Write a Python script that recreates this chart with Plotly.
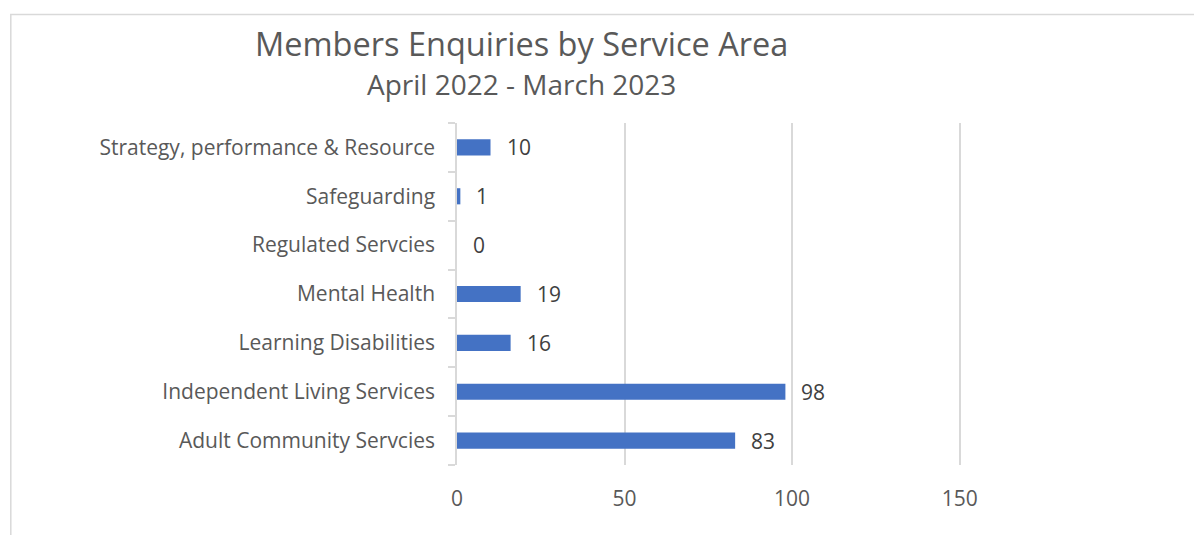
import plotly.graph_objects as go

categories = [
    "Adult Community Servcies",
    "Independent Living Services",
    "Learning Disabilities",
    "Mental Health",
    "Regulated Servcies",
    "Safeguarding",
    "Strategy, performance & Resource",
]
values = [83, 98, 16, 19, 0, 1, 10]
x_ticks = [0, 50, 100, 150]

title_text = "Members Enquiries by Service Area"
subtitle_text = "April 2022 - March 2023"

# page body has an 8px default margin; work in page pixel coords and subtract it
OFF = 8
W, H = 1202 - OFF, 535 - OFF
X_MAX = 150.4
L = 457 - OFF
R = L + X_MAX * (503 / 150)
T, B = 123 - OFF, 465 - OFF
pw, ph = R - L, B - T

def px_x(p):
    return (p - OFF - L) / pw

def px_y(p):
    return (B - (p - OFF)) / ph

FONT = "'Open Sans', sans-serif"

fig = go.Figure(
    go.Bar(
        x=values,
        y=categories,
        orientation="h",
        marker=dict(color="#4472C4", line=dict(width=0)),
        width=0.33,
        hoverinfo="x+y",
    )
)

for v, c in zip(values, categories):
    fig.add_annotation(
        x=v, y=c, xref="x", yref="y", text=str(v), showarrow=False,
        xanchor="left", xshift=14, font=dict(family=FONT, size=21, color="#404040"),
    )

fig.add_annotation(
    x=px_x(522), y=px_y(43), xref="paper", yref="paper", text=title_text,
    showarrow=False, xanchor="center", yanchor="middle",
    font=dict(family=FONT, size=32.5, color="#595959"),
)
fig.add_annotation(
    x=px_x(522), y=px_y(84), xref="paper", yref="paper", text=subtitle_text,
    showarrow=False, xanchor="center", yanchor="middle",
    font=dict(family=FONT, size=28, color="#595959"),
)

fig.add_shape(
    type="rect", xref="paper", yref="paper",
    x0=px_x(10.5), x1=px_x(1230), y0=px_y(560), y1=px_y(14.5),
    line=dict(color="#d9d9d9", width=1.5), fillcolor="rgba(0,0,0,0)", layer="below",
)

fig.update_layout(
    width=W, height=H,
    margin=dict(l=L, r=W - R, t=T, b=H - B, pad=0),
    paper_bgcolor="white", plot_bgcolor="white",
    showlegend=False,
    font=dict(family=FONT, size=21, color="#595959"),
)
fig.update_xaxes(
    range=[0, X_MAX], tickvals=x_ticks, showgrid=True, gridcolor="#d9d9d9", gridwidth=1.5,
    zeroline=False, showline=False, ticks="", ticklabelstandoff=19,
    tickfont=dict(family=FONT, size=21, color="#595959"), fixedrange=True,
)
fig.update_yaxes(
    type="category", categoryorder="array", categoryarray=categories,
    showgrid=False, showline=True, linecolor="#d9d9d9", linewidth=1.5,
    ticks="outside", tickson="boundaries", ticklen=7, tickcolor="#d9d9d9", tickwidth=1.5,
    ticklabelstandoff=16, tickfont=dict(family=FONT, size=21, color="#595959"),
    zeroline=False, fixedrange=True,
)

fig.write_html("out.html")
